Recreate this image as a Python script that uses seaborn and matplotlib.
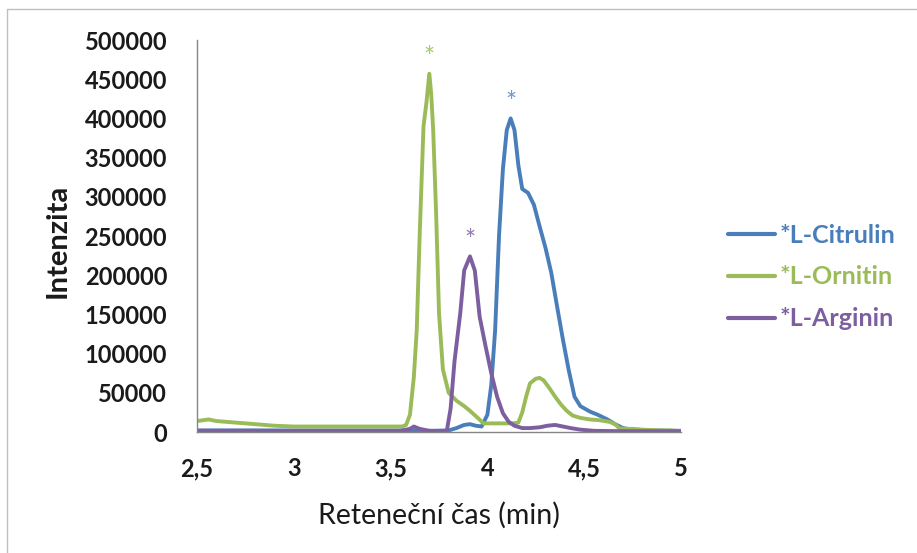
import matplotlib
matplotlib.use("Agg")
import matplotlib.pyplot as plt
import seaborn as sns
import pandas as pd
import numpy as np
from matplotlib.patches import Rectangle
from matplotlib.lines import Line2D

# ---- data ----
series_names = ["*L-Citrulin", "*L-Ornitin", "*L-Arginin"]
series_colors = ["#4A7EBB", "#9BBB59", "#7D5FA0"]
star_colors = ["#6F97CC", "#A9C86A", "#8F78B0"]

citrulin_x = [2.50, 2.70, 2.90, 3.10, 3.30, 3.50, 3.70, 3.80, 3.84, 3.88, 3.91, 3.94, 3.97,
              4.00, 4.02, 4.04, 4.06, 4.08, 4.10, 4.12, 4.14, 4.16, 4.18, 4.21, 4.24, 4.27,
              4.30, 4.33, 4.36, 4.39, 4.42, 4.45, 4.48, 4.53, 4.57, 4.62, 4.66, 4.70, 4.75,
              4.85, 5.00]
citrulin_y = [2000, 2000, 2000, 2000, 2000, 2000, 1500, 2000, 5000, 9000, 10000, 8000, 7000,
              22000, 60000, 130000, 250000, 335000, 385000, 400000, 385000, 340000, 310000,
              305000, 290000, 262000, 235000, 203000, 160000, 118000, 79000, 45000, 33000,
              26000, 22000, 16000, 10000, 5000, 3000, 2000, 1500]

ornitin_x = [2.50, 2.53, 2.56, 2.60, 2.65, 2.70, 2.75, 2.80, 2.85, 2.90, 3.00, 3.10, 3.20,
             3.30, 3.40, 3.50, 3.56, 3.58, 3.60, 3.62, 3.635, 3.65, 3.67, 3.685, 3.70, 3.71,
             3.72, 3.735, 3.75, 3.77, 3.80, 3.84, 3.88, 3.91, 3.95, 3.98, 4.02, 4.08, 4.13,
             4.16, 4.18, 4.20, 4.22, 4.25, 4.27, 4.29, 4.32, 4.35, 4.38, 4.41, 4.44, 4.48,
             4.53, 4.58, 4.63, 4.66, 4.68, 4.71, 4.75, 4.80, 4.85, 4.90, 4.95, 5.00]
ornitin_y = [14000, 15000, 16000, 14000, 13000, 12000, 11000, 10000, 9000, 8000, 7000, 7000,
             7000, 7000, 7000, 7000, 7000, 9000, 22000, 70000, 130000, 250000, 390000, 420000,
             457000, 430000, 385000, 280000, 152000, 80000, 50000, 40000, 33000, 27000, 18000,
             11000, 11000, 11000, 11000, 12000, 25000, 45000, 62000, 68000, 69000, 66000,
             56000, 45000, 35000, 27000, 21000, 18000, 16000, 15000, 13000, 10000, 5000, 4000,
             4000, 3000, 2500, 2000, 2000, 1000]

arginin_x = [2.50, 2.80, 3.10, 3.40, 3.55, 3.60, 3.62, 3.65, 3.70, 3.75, 3.79, 3.81, 3.83,
             3.86, 3.88, 3.91, 3.935, 3.96, 3.99, 4.02, 4.05, 4.08, 4.11, 4.14, 4.18, 4.22,
             4.27, 4.31, 4.35, 4.39, 4.43, 4.48, 4.55, 4.70, 4.85, 5.00]
arginin_y = [1500, 1500, 1000, 1000, 1500, 4000, 7000, 4000, 1500, 1000, 1000, 30000, 90000,
             152000, 206000, 224000, 206000, 147000, 110000, 75000, 45000, 24000, 13000, 8000,
             5000, 5000, 6000, 8000, 9000, 7000, 5000, 3000, 1500, 1000, 1000, 1000]

x_ticks = [2.5, 3, 3.5, 4, 4.5, 5]
x_tick_labels = ["2,5", "3", "3,5", "4", "4,5", "5"]
y_ticks = [0, 50000, 100000, 150000, 200000, 250000, 300000, 350000, 400000, 450000, 500000]
y_tick_labels = [str(v) for v in y_ticks]

x_label = "Retene\u010dn\u00ed \u010das (min)"
y_label = "Intenzita"

# ---- build frame ----
xs = [citrulin_x, ornitin_x, arginin_x]
ys = [citrulin_y, ornitin_y, arginin_y]
df = pd.concat([pd.DataFrame({"x": x, "y": y, "s": n}) for x, y, n in zip(xs, ys, series_names)],
               ignore_index=True)

sns.set_theme(style="white")
plt.rcParams["font.family"] = ["Lato", "DejaVu Sans"]

fig = plt.figure(figsize=(9.17, 5.53), dpi=100)
ax = fig.add_axes([197 / 917, 1 - 432 / 553, (681 - 197) / 917, (432 - 40) / 553])

sns.lineplot(data=df, x="x", y="y", hue="s", palette=dict(zip(series_names, series_colors)),
             estimator=None, sort=True, linewidth=2.8, ax=ax, legend=False)

# asterisks above peaks
for x, y, c in zip(xs, ys, star_colors):
    i = int(np.argmax(y))
    ax.annotate("*", xy=(x[i], y[i]), xytext=(0, 2), textcoords="offset points",
                ha="center", va="bottom", color=c, fontsize=19)

ax.set_xlim(2.5, 5)
ax.set_ylim(0, 500000)
ax.set_xticks(x_ticks)
ax.set_xticklabels(x_tick_labels)
ax.set_yticks(y_ticks)
ax.set_yticklabels(y_tick_labels)
for lab in ax.get_xticklabels() + ax.get_yticklabels():
    lab.set_fontweight("bold")
    lab.set_fontsize(17)
    lab.set_color("#1a1a1a")
ax.tick_params(axis="both", which="major", direction="out", length=6, width=1,
               color="#868686")
ax.tick_params(axis="y", pad=15.5)
ax.tick_params(axis="x", pad=12)
for s in ["top", "right"]:
    ax.spines[s].set_visible(False)
for s in ["left", "bottom"]:
    ax.spines[s].set_color("#868686")
    ax.spines[s].set_linewidth(1)

ax.set_xlabel(x_label, fontsize=20.5, color="#1a1a1a")
ax.set_ylabel(y_label, fontsize=21, fontweight="bold", color="#1a1a1a")
ax.yaxis.set_label_coords((58 - 197) / 484, (432 - 241) / 392)
ax.yaxis.label.set_va("center")
ax.xaxis.set_label_coords((439 - 197) / 484, (432 - 515) / 392)
ax.xaxis.label.set_va("center")

# legend
handles = [Line2D([0], [0], color=c, lw=3.0) for c in series_colors]
leg = fig.legend(handles, series_names, loc="center left",
                 bbox_to_anchor=(705 / 917, 1 - 277 / 553), frameon=False,
                 fontsize=18, handlelength=1.9, handletextpad=0.2, labelspacing=0.75)
for t, c in zip(leg.get_texts(), series_colors):
    t.set_color(c)
    t.set_fontweight("bold")

# outer frame
fig.patches.append(Rectangle((7 / 917, -0.05), 1.1, 0.05 + (1 - 9 / 553), transform=fig.transFigure,
                             fill=False, edgecolor="#BFBFBF", linewidth=1))

fig.savefig("out.png", dpi=100)
